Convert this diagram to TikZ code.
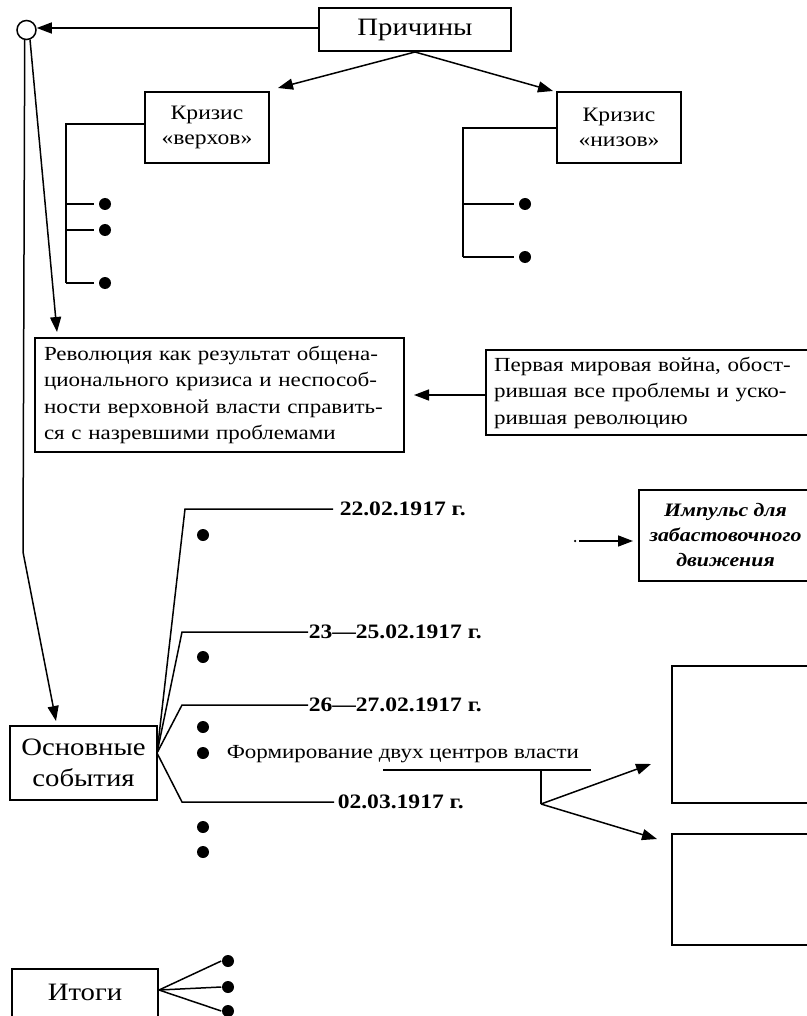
\documentclass[tikz,border=0pt]{standalone}
\usepackage{fontspec}
\setmainfont[FakeStretch=1.15]{Liberation Serif}
\usetikzlibrary{arrows.meta,calc}
\begin{document}
\begin{tikzpicture}[x=1pt,y=-1pt,
  line width=1.5pt,
  box/.style={draw,line width=1.7pt,inner sep=0pt,outer sep=0pt,align=center},
  arr/.style={-{Triangle[length=15pt,width=11pt]}},
  dotn/.style={circle,fill=black,inner sep=0pt,minimum size=12pt},
  datet/.style={font=\fontsize{20.5}{24}\selectfont\bfseries,inner sep=0pt,anchor=west},
  txt/.style={font=\fontsize{20}{26.5}\selectfont}
]
\useasboundingbox (0,0) rectangle (806,1016);
\fill[white] (0,0) rectangle (806,1016);

% top
\node[draw,circle,line width=1.5pt,minimum size=19pt,inner sep=0pt] (circ) at (26.5,30) {};
\node[box,minimum width=192pt,minimum height=43pt,font=\fontsize{25}{30}\selectfont] (prich) at (415,29.5) {Причины};
\node[box,minimum width=124pt,minimum height=71pt,font=\fontsize{20.5}{25}\selectfont] (kv) at (207,127.5) {Кризис\\«верхов»};
\node[box,minimum width=124pt,minimum height=71pt,font=\fontsize{20.5}{25}\selectfont] (kn) at (619,127.5) {Кризис\\«низов»};

\draw[arr] (prich.west |- 0,28) -- (circ.east |- 0,28);
\coordinate (pb) at (415,52);
\draw[arr] (pb) -- ([xshift=9pt,yshift=4pt]kv.north east);
\draw[arr] (pb) -- ([xshift=-4pt,yshift=1pt]kn.north west);

% left bracket
\coordinate (lv1) at (66,124);
\coordinate (lv2) at (66,283);
\node[dotn] (b1) at (105,204) {};
\node[dotn] (b2) at (105,230) {};
\node[dotn] (b3) at (105,283) {};
\draw (kv.west |- lv1) -- (lv1) -- (lv2);
\draw (66,204) -- ([xshift=-4pt]b1.west);
\draw (66,230) -- ([xshift=-4pt]b2.west);
\draw (lv2) -- ([xshift=-4pt]b3.west);

% right bracket
\coordinate (rv1) at (463,128);
\coordinate (rv2) at (463,257);
\node[dotn] (b4) at (525,204) {};
\node[dotn] (b5) at (525,257) {};
\draw (kn.west |- rv1) -- (rv1) -- (rv2);
\draw (463,204) -- ([xshift=-4pt]b4.west);
\draw (rv2) -- ([xshift=-4pt]b5.west);

% revolution + war
\node[box,txt,minimum width=369pt,minimum height=114pt,text width=351pt,align=left,inner xsep=9pt] (rev) at (219.5,395) {Революция как результат общена-\\ционального кризиса и неспособ-\\ности верховной власти справить-\\ся с назревшими проблемами};
\node[box,txt,minimum width=326pt,minimum height=85pt,text width=310pt,align=left,inner xsep=8pt] (war) at (649,392.5) {Первая мировая война, обост-\\рившая все проблемы и уско-\\рившая революцию};
\draw[arr,shorten >=10pt] (war.west |- 0,395) -- (rev.east |- 0,395);

% circle lines
\coordinate (revtip) at (57,332);
\draw[arr] (circ.-70) -- (revtip);
\coordinate (bend) at (23,552);
\node[box,minimum width=147pt,minimum height=74pt,font=\fontsize{25}{31}\selectfont] (osn) at (83.5,763) {Основные\\события};
\coordinate (osntip) at (56,721);
\draw[arr] (circ.-100) -- (bend) -- (osntip);

% impulse
\node[box,minimum width=173pt,minimum height=91pt,font=\fontsize{19}{25}\selectfont\bfseries\itshape] (imp) at (725.5,535.5) {Импульс для\\забастовочного\\движения};
\node[circle,fill=black,inner sep=0pt,minimum size=2.5pt] (idot) at (575,541) {};
\draw[arr] ([xshift=4pt]idot.center) -- ([xshift=-6pt]imp.west |- idot);

% events fan
\coordinate (fan) at (157,753);
\node[datet] (d1) at (339,509) {22.02.1917 г.};
\node[datet] (d2) at (308,632) {23—25.02.1917 г.};
\node[datet] (d3) at (308,705) {26—27.02.1917 г.};
\node[datet] (d4) at (337,802) {02.03.1917 г.};
\draw (fan) -- (185,509) -- ([xshift=-6pt]d1.west);
\draw (fan) -- (182,632) -- (d2.west);
\draw (fan) -- (182,705) -- (d3.west);
\draw (fan) -- (182,802) -- ([xshift=-3pt]d4.west);

\node[dotn] (e1) at (203,535) {};
\node[dotn] (e2) at (203,657) {};
\node[dotn] (e3) at (203,727) {};
\node[dotn] (e4) at (203,753) {};
\node[dotn] (e5) at (203,827) {};
\node[dotn] (e6) at (203,852) {};
\node[txt,anchor=west,inner sep=0pt] (form) at (226,754) {Формирование двух центров власти};

% two centres of power
\node[box,minimum width=140pt,minimum height=137pt] (c1) at (742,734.5) {};
\node[box,minimum width=140pt,minimum height=111pt] (c2) at (742,889.5) {};
\coordinate (ul1) at (383,770);
\coordinate (ul2) at (591,770);
\draw (ul1) -- (ul2);
\coordinate (br1) at (541,770);
\coordinate (br2) at (541,804);
\coordinate (t1) at (651,764);
\coordinate (t2) at (657,839);
\draw (br1) -- (br2);
\draw[arr] (br2) -- (t1);
\draw[arr] (br2) -- (t2);

% results
\node[box,minimum width=146pt,minimum height=56pt,anchor=north west] (itogi) at (12,969) {};
\node[font=\fontsize{25}{30}\selectfont,inner sep=0pt] (itt) at (85,992) {Итоги};
\coordinate (ifan) at (159,990);
\node[dotn] (r1) at (228,961) {};
\node[dotn] (r2) at (228,987) {};
\node[dotn] (r3) at (228,1011) {};
\draw (ifan) -- (r1.west);
\draw (ifan) -- (r2.west);
\draw (ifan) -- (r3.west);
\end{tikzpicture}
\end{document}
